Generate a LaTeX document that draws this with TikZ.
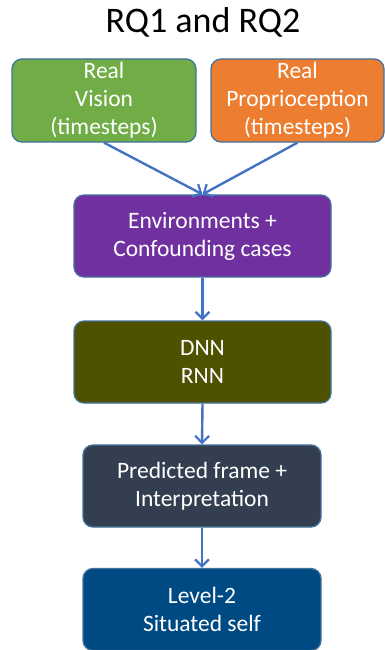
\documentclass[tikz,border=0pt]{standalone}
\usepackage{fontspec}
\setmainfont{Carlito}
\usetikzlibrary{arrows.meta}
\definecolor{boxline}{HTML}{41719C}
\definecolor{arrowblue}{HTML}{4472C4}
\definecolor{cgreen}{HTML}{70AD47}
\definecolor{corange}{HTML}{ED7D31}
\definecolor{cpurple}{HTML}{7030A0}
\definecolor{colive}{HTML}{4D5100}
\definecolor{cslate}{HTML}{333F50}
\definecolor{cblue}{HTML}{004A84}
\tikzset{
  stagebox/.style={draw=boxline, line width=1.3pt, rounded corners=10pt,
    text=white, align=center, inner sep=0pt,
    font=\fontsize{23.5}{28}\selectfont},
  flow/.style={draw=arrowblue, line width=2.4pt,
    -{Straight Barb[length=7pt,width=14pt,line width=2.2pt]}}
}
\begin{document}
\begin{tikzpicture}[x=1pt,y=-1pt]
  \useasboundingbox (0,0) rectangle (385,650);
  \begin{scope}
  \clip (0,0) rectangle (385,650);
  \node[font=\fontsize{36}{42}\selectfont] (title) at (203,22) {RQ1 and RQ2};
  \node[stagebox, fill=cgreen, minimum width=184pt, minimum height=83pt] (vision) at (104,100.5)
    {Real\\Vision\\(timesteps)};
  \node[stagebox, fill=corange, minimum width=173pt, minimum height=83pt] (proprio) at (297.5,100.5)
    {Real\\Proprioception\\(timesteps)};
  \node[stagebox, fill=cpurple, minimum width=257pt, minimum height=82pt] (env) at (202.5,236)
    {Environments +\\Confounding cases};
  \node[stagebox, fill=colive, minimum width=257pt, minimum height=82pt] (dnn) at (202.5,362)
    {DNN\\RNN};
  \node[stagebox, fill=cslate, minimum width=238pt, minimum height=82pt] (pred) at (202,486)
    {Predicted frame +\\Interpretation};
  \node[stagebox, fill=cblue, minimum width=238pt, minimum height=82pt] (self) at (202,609.5)
    {Level-2\\Situated self};
  \draw[flow] (vision.south) -- (env.north);
  \draw[flow] (proprio.south) -- (env.north);
  \draw[flow] (env.south) -- (dnn.north);
  \draw[flow] (dnn.south) -- (pred.north);
  \draw[flow] (pred.south) -- (self.north);
  \end{scope}
\end{tikzpicture}
\end{document}
